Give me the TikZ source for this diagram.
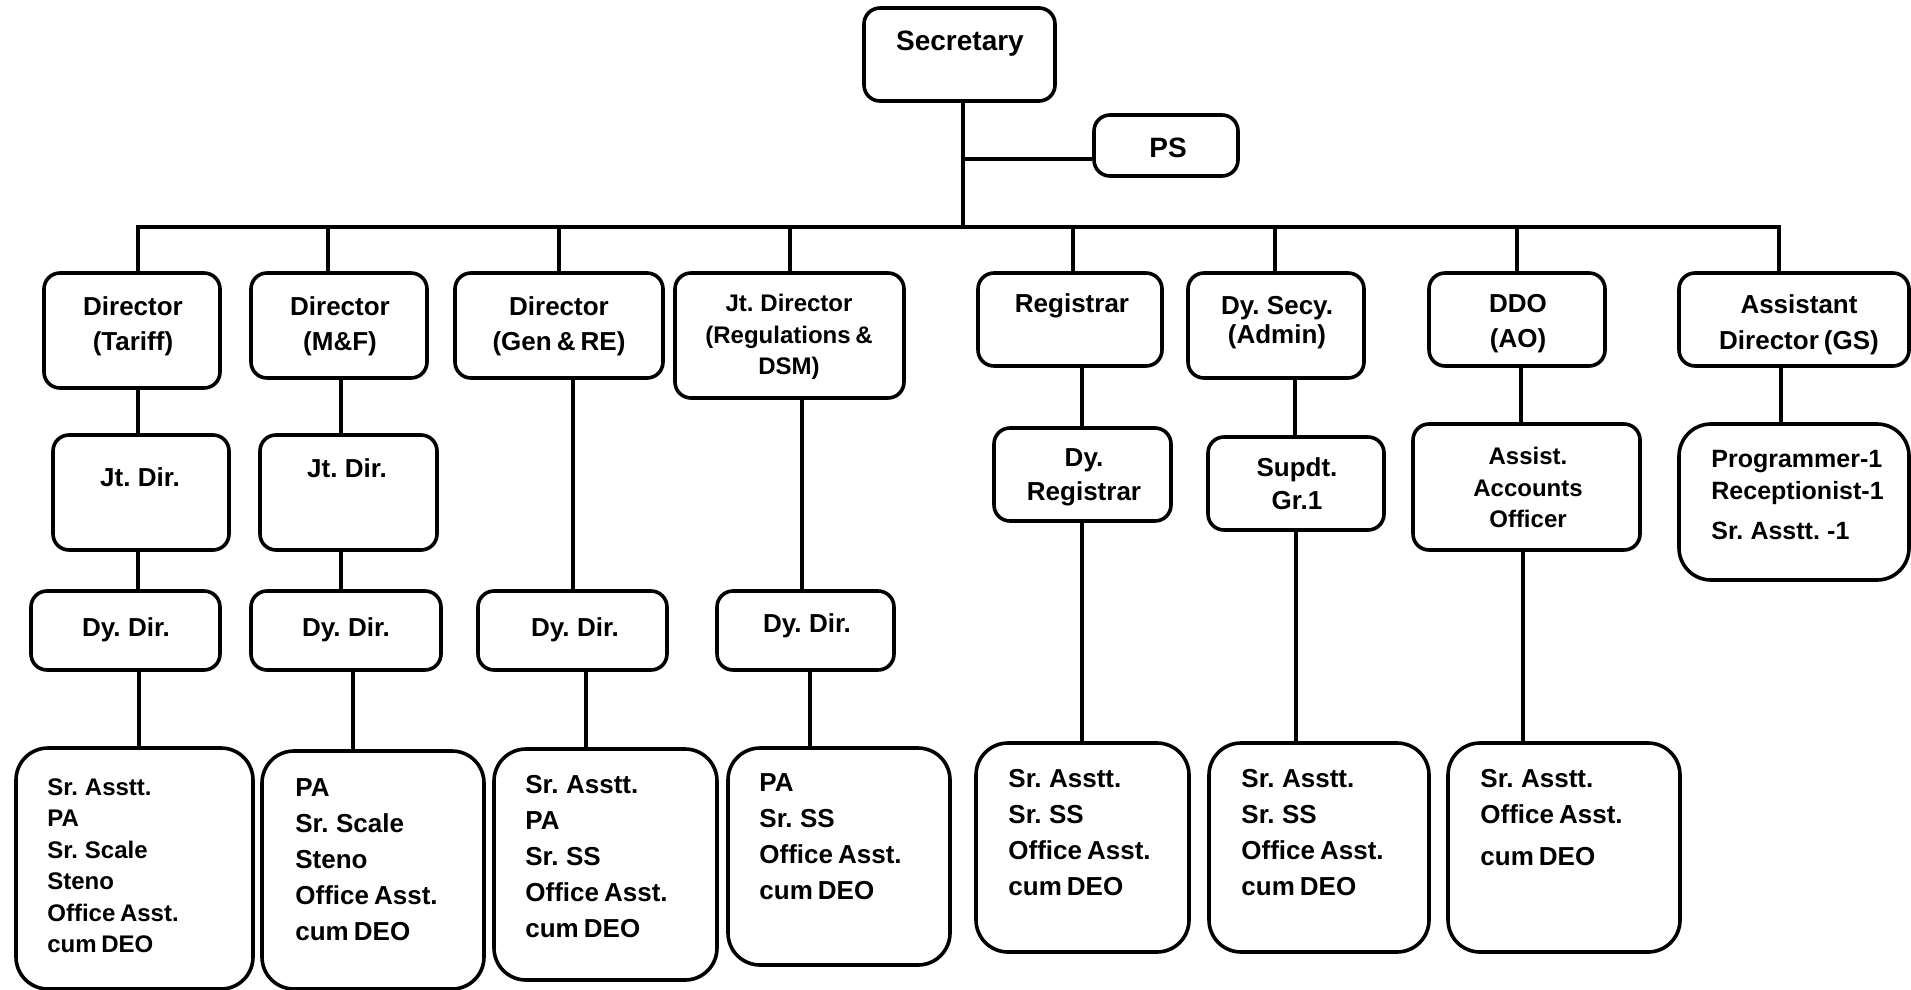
\documentclass[tikz,border=0pt]{standalone}
\usepackage{fontspec}
\setmainfont{Liberation Sans}[WordSpace=0.7]
\usetikzlibrary{fit}

\tikzset{
  box/.style={draw, line width=1.8pt, rounded corners=8pt, inner sep=0pt},
  tallbox/.style={box, rounded corners=16pt},
  ttl/.style={inner sep=0pt, anchor=north, align=center, font=\bfseries\fontsize{13}{17.5}\selectfont},
  lst/.style={inner sep=0pt, anchor=north west, align=left, font=\bfseries\fontsize{13}{18}\selectfont},
  wire/.style={line width=1.8pt}
}

\begin{document}
\begin{tikzpicture}[x=0.5pt, y=-0.5pt]
  \useasboundingbox (0,0) rectangle (1911,990);

  \node[box, fit={(864,8) (1055,101)}] (sec) {};
  \node[ttl, font=\bfseries\fontsize{14}{17}\selectfont] (sect) at (960,31) {Secretary};
  \node[box, fit={(1094,115) (1238,176)}] (ps) {};
  \node[ttl, font=\bfseries\fontsize{14}{17}\selectfont] (pst) at (1168,138) {PS};

  \coordinate (hub) at (963,227);
  \coordinate (busL) at (138,227);
  \coordinate (busR) at (1779,227);

  \node[box, fit={(44,273) (220,388)}] (t1) {};
  \node[ttl] (t1t) at (133,296) {Director\\(Tariff)};
  \node[box, fit={(251,273) (427,378)}] (t2) {};
  \node[ttl] (t2t) at (340,296) {Director\\(M\&F)};
  \node[box, fit={(455,273) (663,378)}] (t3) {};
  \node[ttl] (t3t) at (559,296) {Director\\(Gen \& RE)};
  \node[box, fit={(675,273) (904,398)}] (t4) {};
  \node[ttl, font=\bfseries\fontsize{12}{15.75}\selectfont] (t4t) at (789,294) {Jt. Director\\(Regulations \&\\DSM)};
  \node[box, fit={(978,273) (1162,366)}] (t5) {};
  \node[ttl] (t5t) at (1072,293) {Registrar};
  \node[box, fit={(1188,273) (1364,378)}] (t6) {};
  \node[ttl, font=\bfseries\fontsize{13}{14.5}\selectfont] (t6t) at (1277,296) {Dy. Secy.\\(Admin)};
  \node[box, fit={(1429,273) (1605,366)}] (t7) {};
  \node[ttl] (t7t) at (1518,294) {DDO\\(AO)};
  \node[box, fit={(1679,273) (1909,366)}] (t8) {};
  \node[ttl, font=\bfseries\fontsize{13}{18}\selectfont] (t8t) at (1799,294) {Assistant\\Director (GS)};

  \node[box, fit={(53,435) (229,550)}] (j1) {};
  \node[ttl] (j1t) at (140,467) {Jt. Dir.};
  \node[box, fit={(260,435) (437,550)}] (j2) {};
  \node[ttl] (j2t) at (347,458) {Jt. Dir.};
  \node[box, fit={(994,428) (1171,521)}] (dreg) {};
  \node[ttl, font=\bfseries\fontsize{13}{17}\selectfont] (dregt) at (1084,448) {Dy.\\Registrar};
  \node[box, fit={(1208,437) (1384,530)}] (supdt) {};
  \node[ttl, font=\bfseries\fontsize{13}{16.5}\selectfont] (supdtt) at (1297,457) {Supdt.\\Gr.1};
  \node[box, fit={(1413,424) (1640,550)}] (aao) {};
  \node[ttl, font=\bfseries\fontsize{12}{15.75}\selectfont] (aaot) at (1528,447) {Assist.\\Accounts\\Officer};
  \node[tallbox, fit={(1679,424) (1909,580)}] (prog) {};
  \node[lst, font=\bfseries\fontsize{12.5}{16}\selectfont] (progt) at (1711,450) {Programmer-1\\Receptionist-1\\[4pt]Sr. Asstt. -1};

  \node[box, fit={(31,591) (220,670)}] (d1) {};
  \node[ttl] (d1t) at (126,617) {Dy. Dir.};
  \node[box, fit={(251,591) (441,670)}] (d2) {};
  \node[ttl] (d2t) at (346,617) {Dy. Dir.};
  \node[box, fit={(478,591) (667,670)}] (d3) {};
  \node[ttl] (d3t) at (575,617) {Dy. Dir.};
  \node[box, fit={(717,591) (894,670)}] (d4) {};
  \node[ttl] (d4t) at (807,613) {Dy. Dir.};

  \node[tallbox, fit={(16,748) (253,989)}] (b1) {};
  \node[lst, font=\bfseries\fontsize{12}{15.75}\selectfont] (b1t) at (47,778) {Sr. Asstt.\\PA\\Sr. Scale\\Steno\\Office Asst.\\cum DEO};
  \node[tallbox, fit={(262,751) (484,989)}] (b2) {};
  \node[lst] (b2t) at (295,778) {PA\\Sr. Scale\\Steno\\Office Asst.\\cum DEO};
  \node[tallbox, fit={(494,749) (717,980)}] (b3) {};
  \node[lst] (b3t) at (525,775) {Sr. Asstt.\\PA\\Sr. SS\\Office Asst.\\cum DEO};
  \node[tallbox, fit={(728,748) (950,965)}] (b4) {};
  \node[lst] (b4t) at (759,773) {PA\\Sr. SS\\Office Asst.\\cum DEO};
  \node[tallbox, fit={(976,743) (1189,952)}] (b5) {};
  \node[lst] (b5t) at (1008,769) {Sr. Asstt.\\Sr. SS\\Office Asst.\\cum DEO};
  \node[tallbox, fit={(1209,743) (1429,952)}] (b6) {};
  \node[lst] (b6t) at (1241,769) {Sr. Asstt.\\Sr. SS\\Office Asst.\\cum DEO};
  \node[tallbox, fit={(1448,743) (1680,952)}] (b7) {};
  \node[lst] (b7t) at (1480,769) {Sr. Asstt.\\Office Asst.\\[3pt]cum DEO};

  \draw[wire] (sec.south -| hub) -- (hub);
  \draw[wire] (ps.west |- 0,159) -- (hub |- 0,159);
  \draw[wire] (t1.north -| busL) -- (busL) -- (busR) -- (t8.north -| busR);
  \draw[wire] (t2.north -| 328,0) -- (hub -| 328,0);
  \draw[wire] (t3.north -| 559,0) -- (hub -| 559,0);
  \draw[wire] (t4.north -| 790,0) -- (hub -| 790,0);
  \draw[wire] (t5.north -| 1073,0) -- (hub -| 1073,0);
  \draw[wire] (t6.north -| 1275,0) -- (hub -| 1275,0);
  \draw[wire] (t7.north -| 1517,0) -- (hub -| 1517,0);

  \draw[wire] (t1.south -| 138,0) -- (j1.north -| 138,0);
  \draw[wire] (j1.south -| 138,0) -- (d1.north -| 138,0);
  \draw[wire] (d1.south -| 139,0) -- (b1.north -| 139,0);
  \draw[wire] (t2.south -| 341,0) -- (j2.north -| 341,0);
  \draw[wire] (j2.south -| 341,0) -- (d2.north -| 341,0);
  \draw[wire] (d2.south -| 353,0) -- (b2.north -| 353,0);
  \draw[wire] (t3.south -| 573,0) -- (d3.north -| 573,0);
  \draw[wire] (d3.south -| 586,0) -- (b3.north -| 586,0);
  \draw[wire] (t4.south -| 802,0) -- (d4.north -| 802,0);
  \draw[wire] (d4.south -| 810,0) -- (b4.north -| 810,0);
  \draw[wire] (t5.south -| 1082,0) -- (dreg.north -| 1082,0);
  \draw[wire] (dreg.south -| 1082,0) -- (b5.north -| 1082,0);
  \draw[wire] (t6.south -| 1295,0) -- (supdt.north -| 1295,0);
  \draw[wire] (supdt.south -| 1296,0) -- (b6.north -| 1296,0);
  \draw[wire] (t7.south -| 1521,0) -- (aao.north -| 1521,0);
  \draw[wire] (aao.south -| 1523,0) -- (b7.north -| 1523,0);
  \draw[wire] (t8.south -| 1781,0) -- (prog.north -| 1781,0);
\end{tikzpicture}
\end{document}
